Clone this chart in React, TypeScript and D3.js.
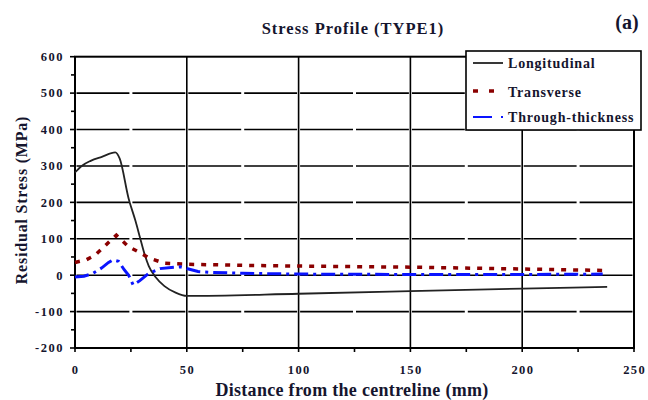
import React from "react";
import * as d3 from "d3";

// Distance from the centreline (mm) and residual stress (MPa) per component
const longX = [0, 3, 7, 12, 18, 20, 24, 27, 29, 31, 33, 36, 40, 45, 50, 100, 150, 200, 238];
const longY = [282, 300, 314, 325, 337, 320, 210, 150, 105, 60, 25, -5, -30, -48, -57, -51, -44, -37, -32];

const transX = [0, 5, 9, 13, 18.5, 24, 29, 33.5, 40, 50, 75, 100, 150, 200, 236];
const transY = [35, 42, 55, 78, 110, 78, 62, 46, 33, 30, 27, 25, 22, 17, 13];

const thruX = [0, 4, 8, 12, 15, 17, 19.5, 22, 24, 26, 29, 33, 38, 47, 55, 60, 75, 100, 150, 200, 236];
const thruY = [-5, -3, 5, 20, 35, 42, 38, 15, 0, -27, -15, 5, 18, 23, 10, 8, 5, 3, 2, 2, 3];

const xTicks = [0, 50, 100, 150, 200, 250];
const xMinorTicks = [25, 75, 125, 175, 225];
const yTicks = [-200, -100, 0, 100, 200, 300, 400, 500, 600];
const yMinorTicks = [-150, -50, 50, 150, 250, 350, 450, 550];

const seriesNames = ["Longitudinal", "Transverse", "Through-thickness"];

const W = 648;
const H = 400;
const FONT = "'Liberation Serif', 'DejaVu Serif', serif";
const INK = "#15152e";

export default function App() {
  const x = d3.scaleLinear().domain([0, 250]).range([75, 634]);
  const y = d3.scaleLinear().domain([-200, 600]).range([348, 56.7]);

  const zip = (xs: number[], ys: number[]) => xs.map((v, i) => [v, ys[i]] as [number, number]);

  const smooth = d3
    .line<[number, number]>()
    .x((d) => x(d[0]))
    .y((d) => y(d[1]))
    .curve(d3.curveMonotoneX);
  const straight = d3
    .line<[number, number]>()
    .x((d) => x(d[0]))
    .y((d) => y(d[1]));

  // horizontal grid lines are broken into 25 mm pieces with small gaps
  const gridSegments: { y: number; x1: number; x2: number }[] = [];
  yTicks
    .filter((t) => t > -200 && t < 600)
    .forEach((t) => {
      for (let k = 0; k < 10; k++) {
        gridSegments.push({ y: y(t), x1: x(k * 25) + 1.5, x2: x((k + 1) * 25) - 1.5 });
      }
    });

  const legendX = 466;
  const legendY = 51;

  return (
    <svg width={W} height={H} style={{ position: "absolute", left: 0, top: 0, background: "#fff" }}>
      <rect x={0} y={0} width={W} height={H} fill="#fff" />

      {/* grid */}
      {gridSegments.map((s, i) => (
        <line key={"hg" + i} x1={s.x1} x2={s.x2} y1={s.y} y2={s.y} stroke="#000" strokeWidth={1.6} />
      ))}
      {xTicks
        .filter((t) => t > 0 && t < 250)
        .map((t) => (
          <line key={"vg" + t} x1={x(t)} x2={x(t)} y1={y(600)} y2={y(-200)} stroke="#000" strokeWidth={1.6} />
        ))}

      {/* frame */}
      <rect x={x(0)} y={y(600)} width={x(250) - x(0)} height={y(-200) - y(600)} fill="none" stroke="#000" strokeWidth={2} />

      {/* y ticks */}
      {yTicks.map((t) => (
        <g key={"yt" + t}>
          <line x1={x(0) - 5} x2={x(0)} y1={y(t)} y2={y(t)} stroke="#000" strokeWidth={1.6} />
          <text x={x(0) - 11} y={y(t)} dy="0.35em" textAnchor="end" fontFamily={FONT} fontWeight="bold" fontSize={12.5} letterSpacing={1.5} fill={INK}>
            {t}
          </text>
        </g>
      ))}
      {yMinorTicks.map((t) => (
        <line key={"ym" + t} x1={x(0) - 4} x2={x(0)} y1={y(t)} y2={y(t)} stroke="#000" strokeWidth={1.6} />
      ))}

      {/* x ticks */}
      {xTicks.map((t) => (
        <g key={"xt" + t}>
          <line x1={x(t)} x2={x(t)} y1={y(-200)} y2={y(-200) + 4} stroke="#000" strokeWidth={1.6} />
          <text x={x(t) + 0.7} y={373.5} textAnchor="middle" fontFamily={FONT} fontWeight="bold" fontSize={12.5} letterSpacing={1.4} fill={INK}>
            {t}
          </text>
        </g>
      ))}
      {xMinorTicks.map((t) => (
        <line key={"xm" + t} x1={x(t)} x2={x(t)} y1={y(-200)} y2={y(-200) + 4} stroke="#000" strokeWidth={1.6} />
      ))}

      {/* series */}
      <path d={smooth(zip(longX, longY)) || ""} fill="none" stroke="#222" strokeWidth={1.8} />
      <path d={straight(zip(transX, transY)) || ""} fill="none" stroke="#8b0000" strokeWidth={3.5} strokeDasharray="5,7" />
      <path d={straight(zip(thruX, thruY)) || ""} fill="none" stroke="#0a14ff" strokeWidth={3} strokeDasharray="14,5,3,5" />

      {/* legend */}
      <rect x={legendX} y={legendY} width={175} height={79} fill="#fff" stroke="#000" strokeWidth={1.6} />
      <line x1={473} x2={503} y1={63} y2={63} stroke="#222" strokeWidth={1.8} />
      <line x1={473} x2={496} y1={91} y2={91} stroke="#8b0000" strokeWidth={3.5} strokeDasharray="5,11" />
      <line x1={473} x2={505} y1={117} y2={117} stroke="#0a14ff" strokeWidth={2} strokeDasharray="19,9,2,9" />
      {seriesNames.map((n, i) => (
        <text key={n} x={508} y={[68, 96.5, 121.5][i]} fontFamily={FONT} fontWeight="bold" fontSize={14} letterSpacing={0.8} fill={INK}>
          {n}
        </text>
      ))}

      {/* titles */}
      <text x={353} y={34} textAnchor="middle" fontFamily={FONT} fontWeight="bold" fontSize={16.5} letterSpacing={1} fill={INK}>
        Stress Profile (TYPE1)
      </text>
      <text x={627} y={29} textAnchor="middle" fontFamily={FONT} fontWeight="bold" fontSize={20} fill={INK}>
        (a)
      </text>
      <text x={352} y={396} textAnchor="middle" fontFamily={FONT} fontWeight="bold" fontSize={18} letterSpacing={0.3} fill={INK}>
        Distance from the centreline (mm)
      </text>
      <text
        transform={`translate(27, 200) rotate(-90)`}
        textAnchor="middle"
        fontFamily={FONT}
        fontWeight="bold"
        fontSize={16}
        letterSpacing={0.8}
        fill={INK}
      >
        Residual Stress (MPa)
      </text>
    </svg>
  );
}
